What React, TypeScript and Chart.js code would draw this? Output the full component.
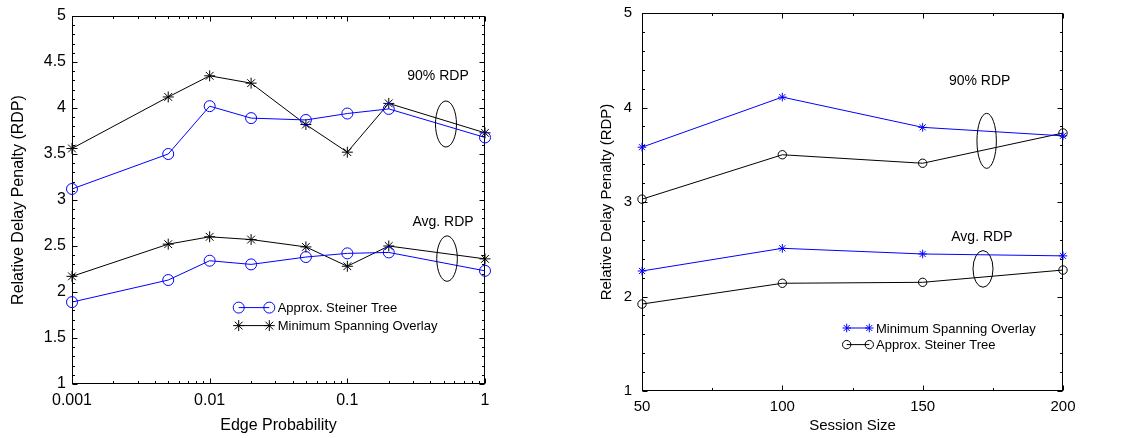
import React, { useEffect, useRef } from 'react';
import { Chart, registerables } from 'chart.js';

Chart.register(...registerables);
Chart.defaults.font.family = '"Liberation Sans", Arial, sans-serif';
Chart.defaults.color = '#000';

// ---------- Left chart data ----------
const edgeProbability = [0.001, 0.005, 0.01, 0.02, 0.05, 0.1, 0.2, 1];
const leftSteiner90 = [3.12, 3.5, 4.02, 3.89, 3.87, 3.94, 3.99, 3.68];
const leftMSO90 = [3.56, 4.12, 4.35, 4.27, 3.82, 3.52, 4.05, 3.73];
const leftSteinerAvg = [1.89, 2.13, 2.34, 2.3, 2.38, 2.42, 2.43, 2.23];
const leftMSOAvg = [2.17, 2.52, 2.6, 2.57, 2.49, 2.28, 2.5, 2.36];
const leftXTickValues = [0.001, 0.01, 0.1, 1];
const leftXTickLabels = ['0.001', '0.01', '0.1', '1'];
const leftYTickLabels = ['1', '1.5', '2', '2.5', '3', '3.5', '4', '4.5', '5'];

// ---------- Right chart data ----------
const sessionSize = [50, 100, 150, 200];
const rightMSO90 = [3.58, 4.11, 3.79, 3.7];
const rightSteiner90 = [3.03, 3.5, 3.41, 3.73];
const rightMSOAvg = [2.27, 2.51, 2.45, 2.43];
const rightSteinerAvg = [1.92, 2.14, 2.15, 2.28];

const seriesNames = ['Approx. Steiner Tree', 'Minimum Spanning Overlay'];
const groupNames = ['90% RDP', 'Avg. RDP'];

const BLUE = '#0000ff';
const BLACK = '#000000';

function drawMarker(ctx: CanvasRenderingContext2D, style: string, x: number, y: number, r: number) {
  ctx.beginPath();
  if (style === 'circle') {
    ctx.arc(x, y, r, 0, Math.PI * 2);
  } else {
    for (let k = 0; k < 4; k++) {
      const ang = (k * Math.PI) / 4;
      const dx = Math.cos(ang) * r;
      const dy = Math.sin(ang) * r;
      ctx.moveTo(x - dx, y - dy);
      ctx.lineTo(x + dx, y + dy);
    }
  }
  ctx.stroke();
}

function ds(label: string, xs: number[], ys: number[], color: string, style: string, radius: number) {
  return {
    label,
    data: xs.map((x, i) => ({ x, y: ys[i] })),
    borderColor: color,
    backgroundColor: 'rgba(0,0,0,0)',
    pointBorderColor: color,
    pointBackgroundColor: 'rgba(0,0,0,0)',
    pointStyle: style,
    pointRadius: radius,
    pointBorderWidth: 1,
    borderWidth: 1,
    tension: 0,
    fill: false,
    clip: 20,
  };
}

function logMinors(min: number, max: number) {
  const out: number[] = [];
  const e0 = Math.round(Math.log10(min));
  const e1 = Math.round(Math.log10(max));
  for (let e = e0; e < e1; e++) for (let m = 2; m <= 9; m++) out.push(m * Math.pow(10, e));
  return out;
}

function linearMinors(min: number, max: number, step: number, majorStep: number) {
  const out: number[] = [];
  const n = Math.round((max - min) / step);
  for (let i = 0; i <= n; i++) {
    const v = min + i * step;
    const r = v / majorStep;
    if (Math.abs(r - Math.round(r)) > 1e-6) out.push(v);
  }
  return out;
}

function noPad(scale: any) {
  scale.paddingTop = 0;
  scale.paddingBottom = 0;
  scale.paddingLeft = 0;
  scale.paddingRight = 0;
}

function framePlugin(
  xMinorFn: (min: number, max: number) => number[],
  yMinorFn: (min: number, max: number) => number[],
  majorLen: number,
  minorLen: number
) {
  return {
    id: 'frameTicks',
    beforeDatasetsDraw(chart: any) {
      const { ctx, chartArea: a, scales } = chart;
      const xs = scales.x;
      const ys = scales.y;
      const L = Math.round(a.left) + 0.5;
      const R = Math.round(a.right) - 0.5;
      const T = Math.round(a.top) + 0.5;
      const B = Math.round(a.bottom) - 0.5;
      ctx.save();
      ctx.strokeStyle = '#000';
      ctx.lineWidth = 1;
      ctx.strokeRect(L, T, R - L, B - T);
      const line = (x1: number, y1: number, x2: number, y2: number) => {
        ctx.beginPath();
        ctx.moveTo(x1, y1);
        ctx.lineTo(x2, y2);
        ctx.stroke();
      };
      const xTick = (v: number, len: number) => {
        const px = Math.round(xs.getPixelForValue(v)) + 0.5;
        line(px, B, px, B - len);
        line(px, T, px, T + len);
      };
      const yTick = (v: number, len: number) => {
        const py = Math.round(ys.getPixelForValue(v)) + 0.5;
        line(L, py, L + len, py);
        line(R, py, R - len, py);
      };
      xs.ticks.forEach((t: any) => xTick(t.value, majorLen));
      xMinorFn(xs.min, xs.max).forEach((v) => xTick(v, minorLen));
      ys.ticks.forEach((t: any) => yTick(t.value, majorLen));
      yMinorFn(ys.min, ys.max).forEach((v) => yTick(v, minorLen));
      ctx.restore();
    },
  };
}

type Anno = { text: string; tx: number; ty: number; ex: number; ey: number; rx: number; ry: number };

function annotationPlugin(annos: Anno[], fontSize: number) {
  return {
    id: 'groupAnnotations',
    afterDatasetsDraw(chart: any) {
      const { ctx, scales } = chart;
      ctx.save();
      ctx.strokeStyle = '#000';
      ctx.fillStyle = '#000';
      ctx.lineWidth = 1;
      ctx.font = `${fontSize}px "Liberation Sans", Arial, sans-serif`;
      ctx.textAlign = 'center';
      ctx.textBaseline = 'middle';
      annos.forEach((a) => {
        ctx.fillText(a.text, scales.x.getPixelForValue(a.tx), scales.y.getPixelForValue(a.ty));
        ctx.beginPath();
        ctx.ellipse(scales.x.getPixelForValue(a.ex), scales.y.getPixelForValue(a.ey), a.rx, a.ry, 0, 0, Math.PI * 2);
        ctx.stroke();
      });
      ctx.restore();
    },
  };
}

type LegendItem = { label: string; color: string; style: string; r: number };

function legendPlugin(
  items: LegendItem[],
  pos: { x1: number; x2: number; textX: number; y0: number; dy: number },
  fontSize: number
) {
  return {
    id: 'customLegend',
    afterDatasetsDraw(chart: any) {
      const { ctx, chartArea: a } = chart;
      ctx.save();
      ctx.lineWidth = 1;
      ctx.font = `${fontSize}px "Liberation Sans", Arial, sans-serif`;
      ctx.textAlign = 'left';
      ctx.textBaseline = 'middle';
      items.forEach((it, i) => {
        const y = a.top + pos.y0 + i * pos.dy;
        const x1 = a.left + pos.x1;
        const x2 = a.left + pos.x2;
        ctx.strokeStyle = it.color;
        ctx.beginPath();
        ctx.moveTo(x1, y);
        ctx.lineTo(x2, y);
        ctx.stroke();
        drawMarker(ctx, it.style, x1, y, it.r);
        drawMarker(ctx, it.style, x2, y, it.r);
        ctx.fillStyle = '#000';
        ctx.fillText(it.label, a.left + pos.textX, y + 1);
      });
      ctx.restore();
    },
  };
}

function leftConfig(): any {
  return {
    type: 'line',
    data: {
      datasets: [
        ds(seriesNames[0] + ' ' + groupNames[0], edgeProbability, leftSteiner90, BLUE, 'circle', 5.5),
        ds(seriesNames[1] + ' ' + groupNames[0], edgeProbability, leftMSO90, BLACK, 'star', 5.5),
        ds(seriesNames[0] + ' ' + groupNames[1], edgeProbability, leftSteinerAvg, BLUE, 'circle', 5.5),
        ds(seriesNames[1] + ' ' + groupNames[1], edgeProbability, leftMSOAvg, BLACK, 'star', 5.5),
      ],
    },
    options: {
      animation: false,
      responsive: false,
      events: [],
      layout: { padding: { left: 0, right: 75, top: 16, bottom: 0 } },
      plugins: { legend: { display: false }, tooltip: { enabled: false } },
      scales: {
        x: {
          type: 'logarithmic',
          min: 0.001,
          max: 1,
          afterBuildTicks: (scale: any) => {
            scale.ticks = leftXTickValues.map((v) => ({ value: v }));
          },
          afterFit: (scale: any) => {
            scale.height = 54;
            noPad(scale);
          },
          grid: { display: false, drawTicks: false },
          border: { display: false },
          ticks: {
            autoSkip: false,
            maxRotation: 0,
            padding: 7,
            font: { size: 16 },
            color: '#000',
            callback: (_v: any, i: number) => leftXTickLabels[i],
          },
          title: {
            display: true,
            text: 'Edge Probability',
            font: { size: 16 },
            color: '#000',
            padding: { top: 0, bottom: 3 },
          },
        },
        y: {
          type: 'linear',
          min: 1,
          max: 5,
          afterFit: (scale: any) => {
            scale.width = 72;
            noPad(scale);
          },
          grid: { display: false, drawTicks: false },
          border: { display: false },
          ticks: {
            stepSize: 0.5,
            autoSkip: false,
            padding: 6,
            font: { size: 16 },
            color: '#000',
            callback: (_v: any, i: number) => leftYTickLabels[i],
          },
          title: {
            display: true,
            text: 'Relative Delay Penalty (RDP)',
            font: { size: 16 },
            color: '#000',
            padding: { top: 9, bottom: 0 },
          },
        },
      },
    },
    plugins: [
      framePlugin(logMinors, (min, max) => linearMinors(min, max, 0.1, 0.5), 5, 2.5),
      annotationPlugin(
        [
          { text: groupNames[0], tx: 0.4556, ty: 4.345, ex: 0.5207, ey: 3.826, rx: 10.5, ry: 23 },
          { text: groupNames[1], tx: 0.4955, ty: 2.76, ex: 0.53, ey: 2.363, rx: 10.3, ry: 22.7 },
        ],
        14
      ),
      legendPlugin(
        [
          { label: seriesNames[0], color: BLUE, style: 'circle', r: 5.5 },
          { label: seriesNames[1], color: BLACK, style: 'star', r: 5.5 },
        ],
        { x1: 166.7, x2: 197.3, textX: 205.7, y0: 291.6, dy: 18 },
        13
      ),
    ],
  };
}

function rightConfig(): any {
  return {
    type: 'line',
    data: {
      datasets: [
        ds(seriesNames[1] + ' ' + groupNames[0], sessionSize, rightMSO90, BLUE, 'star', 4.3),
        ds(seriesNames[0] + ' ' + groupNames[0], sessionSize, rightSteiner90, BLACK, 'circle', 4.2),
        ds(seriesNames[1] + ' ' + groupNames[1], sessionSize, rightMSOAvg, BLUE, 'star', 4.3),
        ds(seriesNames[0] + ' ' + groupNames[1], sessionSize, rightSteinerAvg, BLACK, 'circle', 4.2),
      ],
    },
    options: {
      animation: false,
      responsive: false,
      events: [],
      layout: { padding: { left: 0, right: 60, top: 13, bottom: 0 } },
      plugins: { legend: { display: false }, tooltip: { enabled: false } },
      scales: {
        x: {
          type: 'linear',
          min: 50,
          max: 200,
          afterFit: (scale: any) => {
            scale.height = 47;
            noPad(scale);
          },
          grid: { display: false, drawTicks: false },
          border: { display: false },
          ticks: { stepSize: 50, autoSkip: false, maxRotation: 0, padding: 7, font: { size: 15 }, color: '#000' },
          title: {
            display: true,
            text: 'Session Size',
            font: { size: 15 },
            color: '#000',
            padding: { top: 0, bottom: 3 },
          },
        },
        y: {
          type: 'linear',
          min: 1,
          max: 5,
          afterFit: (scale: any) => {
            scale.width = 82;
            noPad(scale);
          },
          grid: { display: false, drawTicks: false },
          border: { display: false },
          ticks: { stepSize: 1, autoSkip: false, padding: 10, font: { size: 15 }, color: '#000' },
          title: {
            display: true,
            text: 'Relative Delay Penalty (RDP)',
            font: { size: 15 },
            color: '#000',
            padding: { top: 38, bottom: 0 },
          },
        },
      },
    },
    plugins: [
      framePlugin(
        (min, max) => linearMinors(min, max, 25, 50),
        (min, max) => linearMinors(min, max, 0.2, 1),
        5,
        2.5
      ),
      annotationPlugin(
        [
          { text: groupNames[0], tx: 170.3, ty: 4.278, ex: 172.8, ey: 3.647, rx: 9.7, ry: 27.5 },
          { text: groupNames[1], tx: 171.1, ty: 2.627, ex: 171.5, ey: 2.292, rx: 10, ry: 18.3 },
        ],
        14
      ),
      legendPlugin(
        [
          { label: seriesNames[1], color: BLUE, style: 'star', r: 4.3 },
          { label: seriesNames[0], color: BLACK, style: 'circle', r: 4.2 },
        ],
        { x1: 204.7, x2: 227.3, textX: 234, y0: 315, dy: 16.6 },
        13
      ),
    ],
  };
}

export default function App() {
  const leftRef = useRef<HTMLCanvasElement>(null);
  const rightRef = useRef<HTMLCanvasElement>(null);

  useEffect(() => {
    const c1 = new Chart(leftRef.current as HTMLCanvasElement, leftConfig());
    const c2 = new Chart(rightRef.current as HTMLCanvasElement, rightConfig());
    return () => {
      c1.destroy();
      c2.destroy();
    };
  }, []);

  return (
    <div style={{ position: 'absolute', left: 0, top: 0, width: 1123, height: 438, background: '#fff' }}>
      <canvas ref={leftRef} width={560} height={438} style={{ position: 'absolute', left: 0, top: 0 }} />
      <canvas ref={rightRef} width={563} height={438} style={{ position: 'absolute', left: 560, top: 0 }} />
    </div>
  );
}
